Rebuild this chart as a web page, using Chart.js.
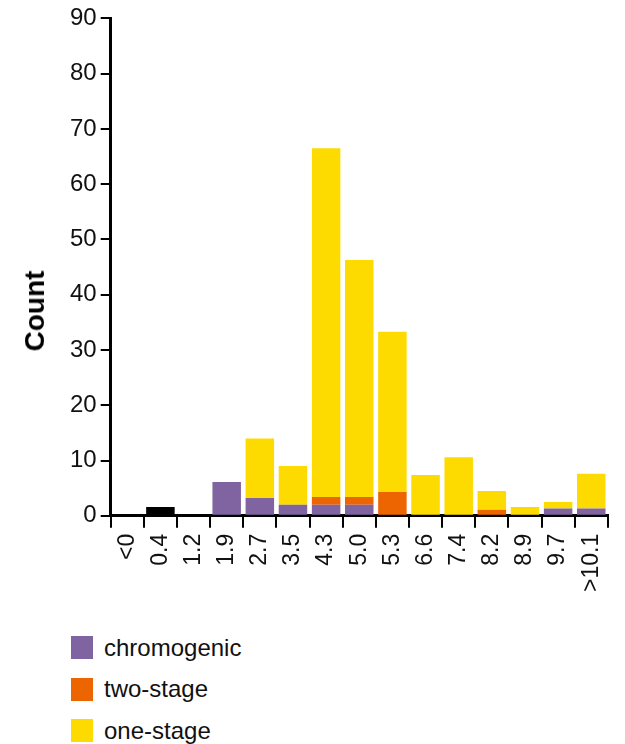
<!DOCTYPE html>
<html>
<head>
<meta charset="utf-8">
<script src="https://cdn.jsdelivr.net/npm/chart.js@4/dist/chart.umd.min.js"></script>
<style>
  body { margin: 0; background: #fff; font-family: "Liberation Sans", Arial, sans-serif; }
  #wrap { position: relative; width: 625px; height: 744px; }
  #chart-box { position: absolute; left: 0; top: 0; width: 625px; height: 610px; }
  #y-title { position: absolute; left: 35px; top: 311px; transform: translate(-50%, -50%) rotate(-90deg);
             font-size: 28px; font-weight: bold; color: #000; white-space: nowrap; }
  #legend { position: absolute; left: 71px; top: 627px; }
  .leg-item { display: flex; align-items: center; height: 41.5px; font-size: 24px; color: #111; }
  .leg-box { width: 22px; height: 23px; margin-right: 11px; }
</style>
</head>
<body>
<div id="wrap">
  <div id="chart-box"><canvas id="countChart"></canvas></div>
  <div id="y-title">Count</div>
  <div id="legend"></div>
</div>
<script>
const categories = ["<0", "0.4", "1.2", "1.9", "2.7", "3.5", "4.3", "5.0", "5.3", "6.6", "7.4", "8.2", "8.9", "9.7", ">10.1"];
const chromogenic = [0, 0, 0, 6.1, 3.2, 2.0, 2.0, 2.0, 0, 0, 0, 0, 0, 1.3, 1.3];
const twoStage = [0, 0, 0, 0, 0, 0, 1.4, 1.4, 4.3, 0, 0, 1.1, 0, 0, 0];
const oneStage = [0, 0, 0, 0, 10.8, 7.0, 63.1, 42.9, 29.0, 7.4, 10.6, 3.4, 1.6, 1.2, 6.3];
const unassigned = [0, 1.6, 0, 0, 0, 0, 0, 0, 0, 0, 0, 0, 0, 0, 0];
const yTicks = [0, 10, 20, 30, 40, 50, 60, 70, 80, 90];

const seriesNames = ["chromogenic", "two-stage", "one-stage"];
const seriesColors = ["#8064a2", "#ec6500", "#fddb00"];

const FONT = "'Liberation Sans', Arial, sans-serif";

const ctx = document.getElementById("countChart").getContext("2d");
new Chart(ctx, {
  type: "bar",
  data: {
    labels: categories,
    datasets: [
      { label: seriesNames[0], data: chromogenic, backgroundColor: seriesColors[0] },
      { label: seriesNames[1], data: twoStage, backgroundColor: seriesColors[1] },
      { label: seriesNames[2], data: oneStage, backgroundColor: seriesColors[2] },
      { label: "other", data: unassigned, backgroundColor: "#000" },
    ],
  },
  options: {
    responsive: true,
    maintainAspectRatio: false,
    animation: false,
    layout: { padding: { top: 8, right: 4, bottom: 12, left: 66 } },
    datasets: { bar: { categoryPercentage: 1, barPercentage: 0.86 } },
    plugins: {
      legend: { display: false },
      tooltip: { enabled: false },
    },
    scales: {
      x: {
        stacked: true,
        offset: true,
        border: { color: "#000", width: 3 },
        grid: { drawOnChartArea: false, drawTicks: true, tickLength: 12, color: "#000", lineWidth: 2 },
        ticks: {
          color: "#111",
          font: { family: FONT, size: 23 },
          minRotation: 90,
          maxRotation: 90,
          autoSkip: false,
          padding: 6,
        },
      },
      y: {
        stacked: true,
        min: 0,
        max: 90,
        afterBuildTicks: (axis) => { axis.ticks = yTicks.map((v) => ({ value: v })); },
        border: { color: "#000", width: 3 },
        grid: { drawOnChartArea: false, drawTicks: true, tickLength: 10, color: "#000", lineWidth: 2 },
        ticks: {
          color: "#111",
          font: { family: FONT, size: 24 },
          padding: 4,
        },
      },
    },
  },
});

// legend as plain html rows
const legend = document.getElementById("legend");
seriesNames.forEach((name, i) => {
  const row = document.createElement("div");
  row.className = "leg-item";
  row.innerHTML = `<span class="leg-box" style="background:${seriesColors[i]}"></span><span>${name}</span>`;
  legend.appendChild(row);
});
</script>
</body>
</html>
